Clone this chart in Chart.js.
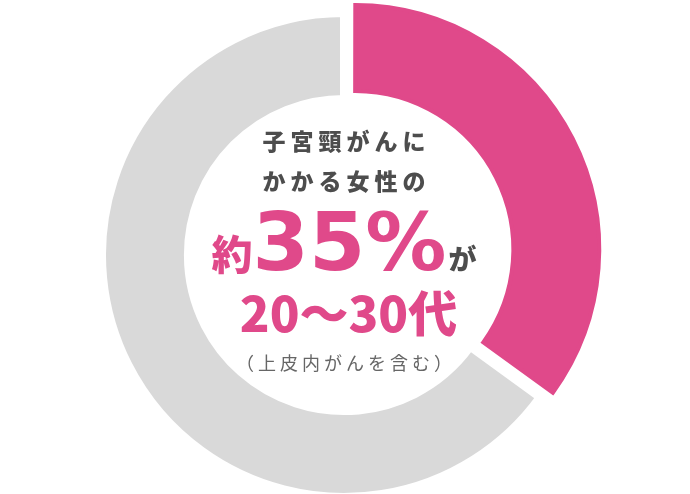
<!DOCTYPE html>
<html lang="ja">
<head>
    <meta charset="UTF-8">
    <title>子宮頸がんにかかる女性の約35%が20～30代</title>
    <script src="https://cdn.jsdelivr.net/npm/chart.js"></script>
    <style>
        html, body { margin: 0; padding: 0; background: #fff; }
        #wrap { position: relative; width: 690px; height: 494px; overflow: hidden; }
        #wrap canvas { position: absolute; left: 0; top: 0; }
        .t {
            position: absolute; left: 0; width: 688px; text-align: center;
            font-family: "Noto Sans CJK JP", "Noto Sans", sans-serif;
            line-height: 1; white-space: nowrap;
        }
        .dark { color: #4d4d4d; font-weight: 900; font-size: 23px; letter-spacing: 5px; padding-left: 5px; box-sizing: border-box; }
        .big { top: 202px; font-family: "DejaVu Sans", sans-serif; font-weight: 700; font-size: 81px; color: #e0498a; }
        .big .yaku { font-family: "Noto Sans CJK JP", sans-serif; font-weight: 900; font-size: 41px; }
        .big .ga { font-family: "Noto Sans CJK JP", sans-serif; font-weight: 900; font-size: 28px; color: #4d4d4d; margin-left: 2px; }
        .age { top: 286px; font-weight: 900; font-size: 49px; color: #e0498a; padding-left: 9px; box-sizing: border-box; }
        .note { top: 353px; font-size: 18px; color: #666; letter-spacing: 4px; padding-left: 4px; box-sizing: border-box; }
    </style>
</head>
<body>
    <div id="wrap">
        <canvas id="donut" width="690" height="494"></canvas>
        <div class="t dark" style="top:129px">子宮頸がんに</div>
        <div class="t dark" style="top:169px">かかる女性の</div>
        <div class="t big"><span class="yaku">約</span>35%<span class="ga">が</span></div>
        <div class="t age">20～30代</div>
        <div class="t note">（上皮内がんを含む）</div>
    </div>

    <script>
        // values
        const labels = ['20～30代', 'その他'];
        const shares = [35, 65];
        const fillColors = ['#e0498a', '#d9d9d9'];
        const edgeColors = ['#e0498a', '#ffffff'];
        const edgeWidths = [4, 8];
        const pullOut = [49, 0];

        new Chart(document.getElementById('donut'), {
            type: 'doughnut',
            data: {
                labels: labels,
                datasets: [{
                    data: shares,
                    backgroundColor: fillColors,
                    borderColor: edgeColors,
                    borderWidth: edgeWidths,
                    borderJoinStyle: 'miter',
                    offset: pullOut,
                    clip: false
                }]
            },
            options: {
                responsive: false,
                animation: false,
                radius: 242,
                cutout: '64.5%',
                layout: { padding: { top: 16, right: 2 } },
                plugins: {
                    legend: { display: false },
                    tooltip: { enabled: false }
                },
                events: []
            }
        });
    </script>
</body>
</html>
